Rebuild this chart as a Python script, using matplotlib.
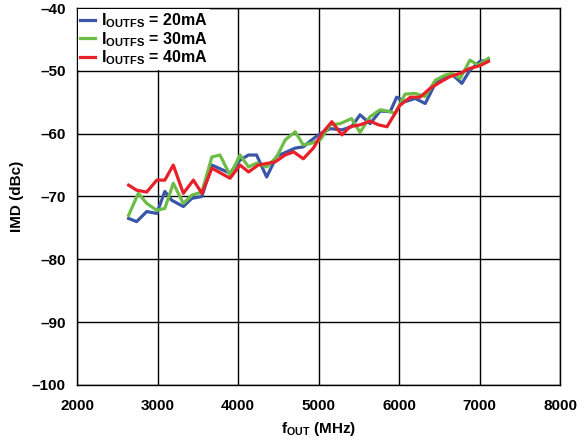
import matplotlib
matplotlib.use('Agg')
import matplotlib.pyplot as plt

plt.rcParams['font.family'] = ['Liberation Sans', 'DejaVu Sans']
plt.rcParams['font.weight'] = 'bold'
plt.rcParams['mathtext.fontset'] = 'custom'
plt.rcParams['mathtext.rm'] = 'Liberation Sans:bold'
plt.rcParams['mathtext.bf'] = 'Liberation Sans:bold'
plt.rcParams['mathtext.it'] = 'Liberation Sans:bold'

# values
blue_x = [2640, 2740, 2865, 2990, 3090, 3175, 3320, 3425, 3550, 3675, 3900, 4025,
          4130, 4230, 4355, 4480, 4605, 4710, 4810, 4915, 5020, 5145, 5290, 5410,
          5515, 5640, 5765, 5890, 5970, 6075, 6200, 6325, 6450, 6570, 6655, 6780,
          6880, 7005, 7110]
blue_y = [-73.5, -74.0, -72.4, -72.7, -69.2, -70.6, -71.6, -70.3, -70.0, -65.0, -66.3, -64.2,
          -63.4, -63.4, -66.9, -63.6, -62.9, -62.3, -62.1, -61.0, -60.0, -59.2, -59.4, -58.9,
          -57.0, -58.4, -56.4, -56.5, -54.2, -54.9, -54.4, -55.2, -52.0, -50.9, -50.5, -52.0,
          -49.9, -48.5, -48.3]

green_x = [2640, 2760, 2865, 2990, 3090, 3195, 3320, 3425, 3550, 3675, 3775, 3900,
           4025, 4130, 4230, 4355, 4480, 4585, 4710, 4810, 4915, 5020, 5145, 5270,
           5410, 5515, 5640, 5765, 5890, 5950, 6075, 6200, 6325, 6450, 6570, 6655,
           6760, 6880, 6985, 7110]
green_y = [-73.0, -69.5, -71.1, -72.2, -71.9, -67.9, -71.1, -69.8, -69.3, -63.7, -63.4, -66.6,
           -63.4, -65.3, -64.7, -65.3, -63.7, -61.0, -59.7, -61.8, -61.5, -61.0, -58.6, -58.4,
           -57.6, -59.8, -57.3, -56.2, -56.5, -56.8, -53.7, -53.6, -54.1, -51.5, -50.7, -50.4,
           -51.2, -48.3, -49.1, -48.0]

red_x = [2640, 2740, 2865, 2990, 3090, 3195, 3320, 3445, 3550, 3675, 3900, 4025,
         4130, 4250, 4375, 4460, 4585, 4690, 4810, 4935, 5040, 5165, 5290, 5390,
         5515, 5640, 5745, 5850, 6010, 6140, 6260, 6385, 6510, 6635, 6760, 6880,
         7000, 7110]
red_y = [-68.2, -69.0, -69.3, -67.4, -67.4, -65.0, -69.5, -67.4, -69.5, -65.5, -67.1, -65.0,
         -66.1, -65.0, -64.7, -64.5, -63.4, -62.9, -64.0, -62.3, -60.0, -58.1, -60.2, -58.9,
         -58.6, -58.0, -58.6, -58.9, -55.5, -54.2, -54.2, -52.8, -51.8, -50.9, -50.4, -49.6,
         -49.2, -48.5]

labels = [r'$\mathbf{I_{OUTFS}}$ = 20mA', r'$\mathbf{I_{OUTFS}}$ = 30mA', r'$\mathbf{I_{OUTFS}}$ = 40mA']
colors = ['#3a56a6', '#6cbd45', '#e8202a']

x_ticks = [2000, 3000, 4000, 5000, 6000, 7000, 8000]
y_ticks = [-100, -90, -80, -70, -60, -50, -40]

fig = plt.figure(figsize=(5.84, 4.45), dpi=100)
ax = fig.add_axes([0.132, 0.135, 0.827, 0.847])

for xs, ys, c, lab in zip([blue_x, green_x, red_x], [blue_y, green_y, red_y], colors, labels):
    ax.plot(xs, ys, color=c, linewidth=2.3, label=lab, zorder=3)

ax.set_xlim(2000, 8000)
ax.set_ylim(-100, -40)
ax.set_xticks(x_ticks)
ax.set_yticks(y_ticks)
ax.set_xticklabels([str(v) for v in x_ticks], fontsize=11, fontweight='bold')
ax.set_yticklabels([str(v).replace('-', '\u2013') for v in y_ticks], fontsize=11, fontweight='bold')
ax.tick_params(axis='x', length=0, pad=10)
ax.tick_params(axis='y', length=0, pad=8)
ax.grid(True, color='black', linewidth=1.0)
ax.set_axisbelow(True)
for s in ax.spines.values():
    s.set_linewidth(1.0)

ax.set_xlabel(r'$\mathbf{f_{OUT}}$ (MHz)', fontsize=11, fontweight='bold', labelpad=5)
ax.set_ylabel('IMD (dBc)', fontsize=11, fontweight='bold', labelpad=6)

leg = ax.legend(loc='upper left', fontsize=11.5, frameon=True, fancybox=False,
                handlelength=0.9, handletextpad=0.4, labelspacing=0.0,
                borderaxespad=0.05, borderpad=0.15)
leg.get_frame().set_edgecolor('none')
leg.get_frame().set_facecolor('white')
leg.get_frame().set_alpha(1.0)

fig.savefig('out.png', dpi=100)
